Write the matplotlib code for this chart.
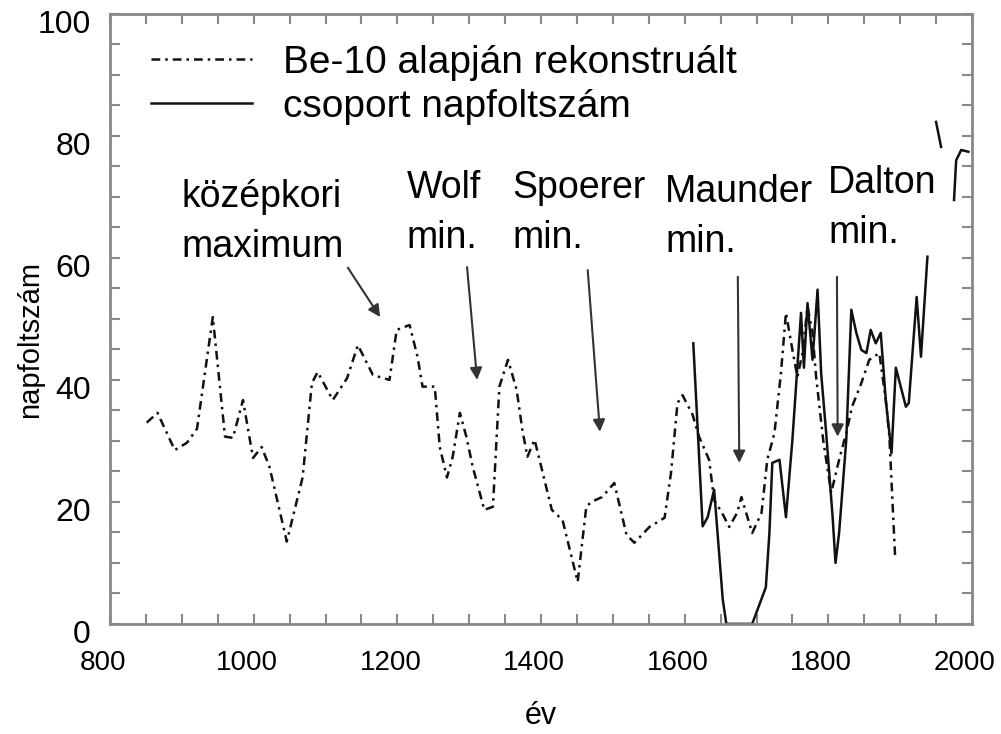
import numpy as np
import matplotlib
matplotlib.use('Agg')
import matplotlib.pyplot as plt
from matplotlib.ticker import MultipleLocator
from matplotlib.transforms import ScaledTranslation

plt.rcParams['font.family'] = ['Liberation Sans', 'DejaVu Sans']

# Be-10 alapjan rekonstrualt (dash-dot)
be10_years = [851, 866, 890, 907, 921, 943, 960, 971, 985, 999, 1011, 1022, 1046,
              1068, 1081, 1089, 1110, 1130, 1145, 1166, 1189, 1199, 1217, 1228,
              1235, 1252, 1259, 1269, 1277, 1287, 1296, 1305, 1321, 1333, 1342,
              1354, 1366, 1374, 1381, 1391, 1415, 1430, 1451, 1463, 1470, 1485,
              1502, 1519, 1530, 1551, 1572, 1581, 1590, 1597, 1611, 1620, 1634,
              1641, 1652, 1662, 1673, 1679, 1694, 1707, 1715, 1725, 1734, 1741,
              1750, 1757, 1764, 1771, 1778, 1783, 1793, 1804, 1815, 1825, 1833,
              1846, 1857, 1871, 1880, 1885, 1893]
be10_vals = [33, 34.6, 28.5, 29.7, 32, 50.3, 30.7, 30.5, 36.7, 27.2, 29, 25.7, 13.5,
             24, 39.5, 41.3, 36.7, 40.3, 45.7, 40.8, 40, 48.2, 49, 43.8,
             38.9, 38.9, 29, 24, 27.4, 34.6, 30.7, 25.7, 18.7, 19.2, 38.9,
             43.3, 38.4, 31.8, 27.4, 30.2, 18.7, 17, 6.9, 19.2, 20, 20.8,
             23.1, 14.6, 13.3, 15.9, 17.4, 24.8, 36.2, 37.5, 34.3, 30.7, 26.9,
             20.3, 18.2, 15.9, 18.2, 20.8, 14.9, 18.2, 26.9, 31.3, 41.1, 51,
             44.9, 40.5, 44.4, 52, 47.7, 40.5, 30, 21.5, 26.9, 31.3, 35.6,
             39.5, 43.3, 44.4, 36.7, 30.7, 11]

# csoport napfoltszam (solid), gaps where the line is missing in the original
group_years = [1612, 1625, 1632, 1641, 1653, 1658, 1694, 1713, 1718, 1722, 1732,
               1741, 1750, 1762, 1766, 1771, 1778, 1785, 1790, 1797, 1806, 1810,
               1815, 1825, 1832, 1839, 1846, 1853, 1859, 1866, 1873, 1880, 1888,
               1894, 1908, 1912, 1923, 1929, 1938, 1944, 1950, 1957, 1966,
               1975, 1978, 1985, 1995]
group_vals = [46, 16, 17.5, 22, 4, 0, 0, 6, 15, 26.4, 26.9,
              17.5, 30.2, 51, 42, 52.6, 43.3, 54.8, 41.1, 31.3, 17.5, 10,
              14.9, 30.2, 51.5, 47.7, 44.9, 44.4, 48.2, 46, 47.7, 36.7, 28,
              42, 35.6, 36.2, 53.6, 43.8, 60.2, np.nan, 82.3, 78.2, np.nan,
              69.5, 76, 77.7, 77.4]

# annotations: text, text position, arrow tail, arrow head
notes = ['középkori\nmaximum', 'Wolf\nmin.', 'Spoerer\nmin.', 'Maunder\nmin.', 'Dalton\nmin.']
note_xy = [(900, 73), (1213, 74.4), (1360, 74.4), (1573, 73.7), (1800, 75.2)]
arrow_tail = [(1131, 58.4), (1297, 58.5), (1465, 58), (1674, 56.9), (1812, 56.9)]
arrow_head = [(1176, 50.3), (1311, 40), (1482, 31.5), (1676, 26.4), (1813, 30.7)]

fig = plt.figure(figsize=(10.01, 7.34), dpi=100)
ax = fig.add_axes([0.110, 0.150, 0.861, 0.831])

ax.plot(be10_years, be10_vals, color='#111111', lw=1.8,
        linestyle=(0, (3.5, 2, 1, 2)), label='Be-10 alapján rekonstruált')
ax.plot(group_years, group_vals, color='#111111', lw=1.8,
        label='csoport napfoltszám')

for t, xy, a, b in zip(notes, note_xy, arrow_tail, arrow_head):
    ax.text(xy[0], xy[1], t, fontsize=27, ha='left', va='top', linespacing=1.5)
    ax.annotate('', xy=b, xytext=a,
                arrowprops=dict(arrowstyle='-|>', color='#333333', lw=1.5,
                                mutation_scale=18, shrinkA=0, shrinkB=0))

ax.set_xlim(800, 2000)
ax.set_ylim(0, 100)
ax.xaxis.set_major_locator(MultipleLocator(200))
ax.xaxis.set_minor_locator(MultipleLocator(50))
ax.yaxis.set_major_locator(MultipleLocator(20))
ax.yaxis.set_minor_locator(MultipleLocator(5))
ax.tick_params(which='both', direction='in', top=True, right=True,
               color='#888888', width=1.5, length=7)
ax.tick_params(axis='x', labelsize=20, pad=19)
ax.tick_params(axis='y', labelsize=23, pad=14)
for s in ax.spines.values():
    s.set_color('#888888')
    s.set_linewidth(2)

for lab in ax.get_xticklabels():
    lab.set_transform(lab.get_transform() + ScaledTranslation(-0.07, 0, fig.dpi_scale_trans))
for lab in ax.get_yticklabels():
    lab.set_transform(lab.get_transform() + ScaledTranslation(0, -0.08, fig.dpi_scale_trans))

ax.set_xlabel('év', fontsize=22, labelpad=18)
ax.set_ylabel('napfoltszám', fontsize=21)
ax.yaxis.set_label_coords(-0.077, 0.466)

ax.legend(loc='upper left', bbox_to_anchor=(0.047, 0.949), frameon=False,
          fontsize=28, handlelength=2.6, handletextpad=0.8, labelspacing=0.2,
          borderpad=0, borderaxespad=0)

fig.savefig('out.png', dpi=100)
